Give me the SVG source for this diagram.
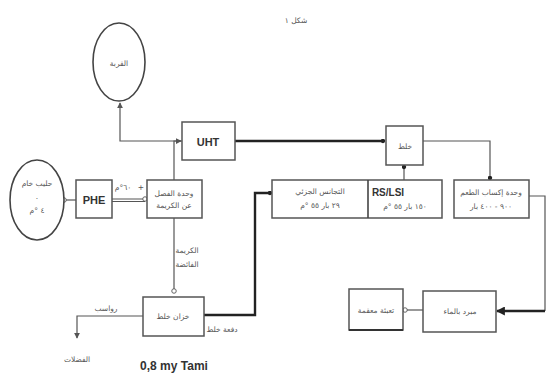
<svg xmlns="http://www.w3.org/2000/svg" width="547" height="376" viewBox="0 0 547 376">
<style>
.box{fill:#fff;stroke:#555;stroke-width:1.5}
.ell{fill:#fff;stroke:#444;stroke-width:1.6}
.ln{fill:none;stroke:#555;stroke-width:1.2}
.thk{fill:none;stroke:#222;stroke-width:2.4}
.ar{font-family:"DejaVu Sans",sans-serif;font-size:7.5px;fill:#555;text-anchor:middle}
.lat{font-family:"Liberation Sans",sans-serif;font-weight:bold;fill:#333;text-anchor:middle}
</style>
<defs>
<marker id="dot" viewBox="0 0 6 6" refX="3" refY="3" markerWidth="5" markerHeight="5" markerUnits="userSpaceOnUse"><circle cx="3" cy="3" r="2.6" fill="#222"/></marker>
<marker id="oc" viewBox="0 0 8 8" refX="4" refY="4" markerWidth="6" markerHeight="6" markerUnits="userSpaceOnUse"><circle cx="4" cy="4" r="3" fill="#fff" stroke="#555" stroke-width="1.2"/></marker>
<marker id="arr" viewBox="0 0 8 8" refX="7" refY="4" markerWidth="6" markerHeight="6" orient="auto" markerUnits="userSpaceOnUse"><path d="M0,0 L8,4 L0,8 z" fill="#555"/></marker>
<marker id="arrT" viewBox="0 0 8 8" refX="7" refY="4" markerWidth="9" markerHeight="9" orient="auto" markerUnits="userSpaceOnUse"><path d="M0,0 L8,4 L0,8 z" fill="#222"/></marker>
</defs>
<text x="296" y="23" class="ar" font-size="9">شكل ١</text>

<g id="connectors">
<path class="ln" d="M182,141 H120 V103" marker-end="url(#arr)"/>
<path class="ln" d="M174,180 V141 H181" marker-end="url(#arr)"/>
<path class="ln" d="M64,200 H76" marker-start="url(#oc)"/>
<path class="ln" d="M112,199 H145" marker-end="url(#oc)"/>
<path class="ln" d="M112,201.5 H145"/>
<path class="thk" d="M235,141 H383" marker-end="url(#dot)"/>
<path class="ln" d="M423,141 H490 V178" marker-end="url(#dot)"/>
<path class="ln" d="M404,180 V167" marker-end="url(#dot)"/>
<path class="ln" d="M174,218 V291" marker-end="url(#oc)"/>
<path class="thk" d="M204,315 H255 V193 H270" marker-end="url(#dot)"/>
<path class="ln" d="M143,316 H77 V338" marker-end="url(#arr)"/>
<path class="ln" d="M529,196 H545 V311"/>
<path class="thk" d="M545,311 H497" marker-end="url(#arrT)"/>
<path class="ln" d="M423,310 H405" marker-end="url(#oc)"/>
</g>

<g id="n-top-ellipse">
<ellipse class="ell" cx="119" cy="62" rx="26" ry="39"/>
<text x="119" y="66" class="ar">القربة</text>
</g>
<g id="n-raw-milk">
<ellipse class="ell" cx="37" cy="200" rx="27" ry="40"/>
<text x="37" y="186" class="ar" font-size="7">حليب خام</text>
<text x="37" y="199" class="ar">.</text>
<text x="37" y="213" class="ar">٤ °م</text>
</g>
<g id="n-phe">
<rect class="box" x="76" y="180" width="36" height="38"/>
<text x="94" y="204" class="lat" font-size="11">PHE</text>
</g>
<text x="123" y="190" class="ar">٦٠°م</text>
<text x="141" y="190" class="ar">+</text>
<g id="n-separator">
<rect class="box" x="147" y="180" width="55" height="38"/>
<text x="174" y="196" class="ar">وحدة الفصل</text>
<text x="174" y="208" class="ar">عن الكريمة</text>
</g>
<g id="n-uht">
<rect class="box" x="182" y="122" width="53" height="38"/>
<text x="208" y="146" class="lat" font-size="11">UHT</text>
</g>
<g id="n-mix-small">
<rect class="box" x="386" y="126" width="37" height="39"/>
<text x="405" y="149" class="ar">خلط</text>
</g>
<g id="n-homog">
<rect class="box" x="272" y="180" width="170" height="38"/>
<line x1="368" y1="180" x2="368" y2="218" stroke="#444" stroke-width="1.6"/>
<text x="320" y="194" class="ar">التجانس الجزئي</text>
<text x="320" y="208" class="ar">٢٩ بار ٥٥ °م</text>
<text x="388" y="196" class="lat" font-size="10">RS/LSI</text>
<text x="405" y="209" class="ar">١٥٠ بار ٥٥ °م</text>
</g>
<g id="n-flavour">
<rect class="box" x="454" y="180" width="75" height="38"/>
<text x="491" y="195" class="ar">وحدة إكساب الطعم</text>
<text x="491" y="209" class="ar">٩٠٠ - ٤٠٠ بار</text>
</g>
<g id="n-mixing">
<rect class="box" x="143" y="297" width="61" height="39"/>
<text x="173" y="319" class="ar">خزان خلط</text>
</g>
<text x="187" y="253" class="ar">الكريمة</text>
<text x="187" y="267" class="ar">الفائضة</text>
<text x="106" y="311" class="ar">رواسب</text>
<text x="77" y="362" class="ar">الفضلات</text>
<text x="222" y="332" class="ar" font-size="7">دفعة خلط</text>
<text x="174" y="370" class="lat" font-size="12">0,8 my Tami</text>
<g id="n-cooler">
<rect class="box" x="423" y="291" width="73" height="41"/>
<text x="460" y="314" class="ar">مبرد بالماء</text>
</g>
<g id="n-filling">
<rect class="box" x="349" y="289" width="54" height="41"/>
<line x1="349" y1="330" x2="403" y2="330" stroke="#333" stroke-width="2.2"/>
<text x="376" y="313" class="ar">تعبئة معقمة</text>
</g>
</svg>
